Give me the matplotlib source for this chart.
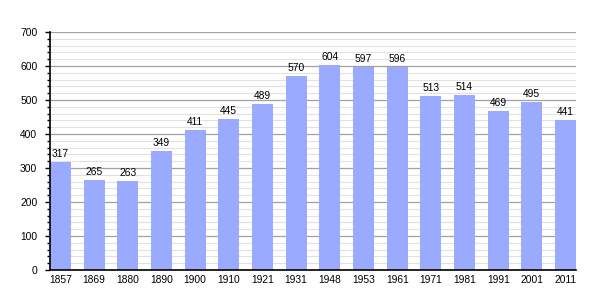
import matplotlib.pyplot as plt
import numpy as np

# Data
years = ["1857", "1869", "1880", "1890", "1900", "1910", "1921", "1931",
         "1948", "1953", "1961", "1971", "1981", "1991", "2001", "2011"]
population = [317, 265, 263, 349, 411, 445, 489, 570,
              604, 597, 596, 513, 514, 469, 495, 441]

plt.rcParams["font.family"] = ["Liberation Sans", "DejaVu Sans"]

fig = plt.figure(figsize=(6.05, 3.0), dpi=100)
ax = fig.add_axes([0.0826, 0.1, 0.8694, 0.793])

x = np.arange(len(years))
bar_w = 0.62
ax.bar(x, population, width=bar_w, color="#99aaff", zorder=2)

# value labels above bars
for xi, v in zip(x, population):
    ax.text(xi, v + 9, str(v), ha="center", va="bottom", fontsize=7.4, color="black", zorder=3)

ax.set_xlim(-bar_w / 2, len(years) - 1 + bar_w / 2)
ax.set_ylim(0, 700)
ax.set_xticks(x)
ax.set_xticklabels(years, fontsize=7.4)
ax.set_yticks(range(0, 701, 100))
ax.set_yticks(range(0, 701, 20), minor=True)
ax.tick_params(axis="y", labelsize=7.4, length=3.6, width=1, direction="out", pad=5.5)
ax.tick_params(axis="y", which="minor", length=2, width=1)
ax.tick_params(axis="x", length=0, pad=3.5)

# gridlines
ax.grid(axis="y", which="major", color="#a0a0a0", linewidth=0.9, zorder=0)
ax.grid(axis="y", which="minor", color="#e2e2e2", linewidth=0.8, zorder=0)
ax.set_axisbelow(True)

for s in ["top", "right"]:
    ax.spines[s].set_visible(False)
ax.spines["left"].set_linewidth(1.2)
ax.spines["bottom"].set_linewidth(1.2)

plt.savefig("out.png", dpi=100)
plt.close()
